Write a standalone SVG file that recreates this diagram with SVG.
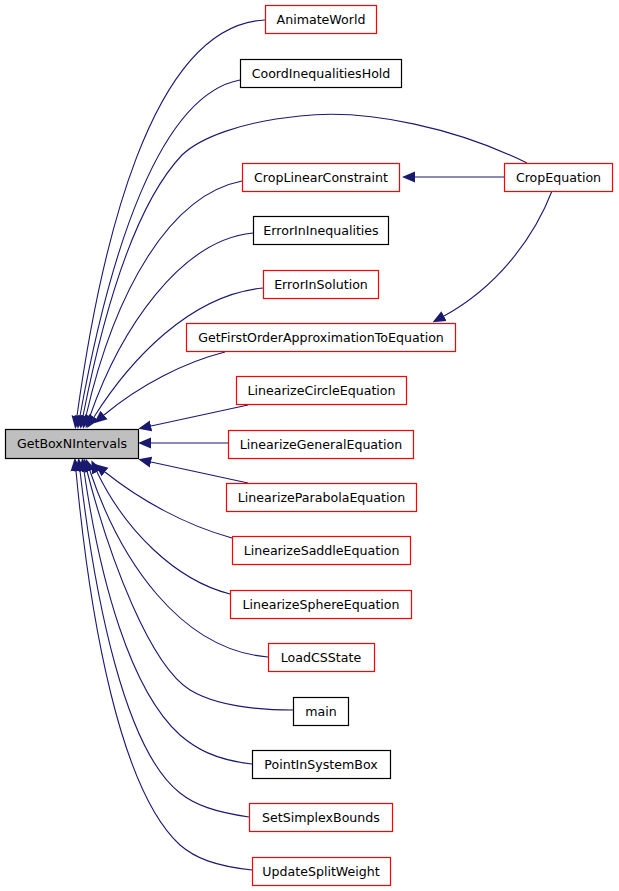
<svg xmlns="http://www.w3.org/2000/svg" width="619" height="891" viewBox="0 0 619 891">
<style>
.n rect{fill:#ffffff;stroke-width:1.2}
.red rect{stroke:#ff0000}
.blk rect{stroke:#000000}
.hub rect{fill:#bfbfbf;stroke:#000000;stroke-width:1.2}
text{font-family:"DejaVu Sans","Liberation Sans",sans-serif;font-size:12.6px;fill:#000;text-anchor:middle}
#edges path{fill:none;stroke:#191970;stroke-width:1.1;marker-end:url(#arr)}
</style>
<defs>
<marker id="arr" markerUnits="userSpaceOnUse" markerWidth="14" markerHeight="12" refX="0" refY="5.5" orient="auto" viewBox="0 0 14 11">
<path d="M0,0 L13,5.5 L0,11 z" fill="#191970"/>
</marker>
</defs>
<rect width="619" height="891" fill="#ffffff"/>
<g id="edges">
<path d="M265,20 C150,25 100,250 77,416"/>
<path d="M240,80 C160,95 110,250 80,416"/>
<path d="M527,163 C460,130 370,108 300,116 C240,122 200,138 182,155 C130,210 100,330 83,416"/>
<path d="M242,181 C170,195 115,290 86,416"/>
<path d="M253,233 C180,240 120,330 90,416"/>
<path d="M263,288 C190,295 130,360 94,417"/>
<path d="M225,352 C185,362 140,385 104,415"/>
<path d="M248,405 L151,426"/>
<path d="M228,443 L151,443"/>
<path d="M248,483 L151,462"/>
<path d="M232,538 C185,525 140,500 105,472"/>
<path d="M230,594 C175,580 125,530 97,472"/>
<path d="M268,657 C180,650 120,560 90,471"/>
<path d="M293,710 C250,710 215,705 190,690 C150,665 110,560 87,471"/>
<path d="M252,764 C215,760 195,748 180,735 C130,690 100,580 84,471"/>
<path d="M249,817 C215,812 195,805 180,793 C125,750 95,600 80,471"/>
<path d="M252,870 C215,866 195,858 180,845 C120,790 90,620 76,471"/>
<path d="M552,191 C535,235 500,285 444,316"/>
<path d="M504,177 L415,177"/>
</g>
<g id="GetBoxNIntervals" class="hub"><rect x="5.5" y="429.5" width="133" height="29"/><text x="72" y="448">GetBoxNIntervals</text></g>
<g id="AnimateWorld" class="n red"><rect x="265.5" y="5.5" width="111" height="28"/><text x="321" y="24">AnimateWorld</text></g>
<g id="CoordInequalitiesHold" class="n blk"><rect x="240.5" y="59.5" width="161" height="28"/><text x="321" y="78">CoordInequalitiesHold</text></g>
<g id="CropLinearConstraint" class="n red"><rect x="242.5" y="163.5" width="157" height="28"/><text x="321" y="182">CropLinearConstraint</text></g>
<g id="CropEquation" class="n red"><rect x="504.5" y="163.5" width="108" height="28"/><text x="558.5" y="182">CropEquation</text></g>
<g id="ErrorInInequalities" class="n blk"><rect x="253.5" y="216.5" width="135" height="28"/><text x="321" y="235">ErrorInInequalities</text></g>
<g id="ErrorInSolution" class="n red"><rect x="263.5" y="270.5" width="115" height="28"/><text x="321" y="289">ErrorInSolution</text></g>
<g id="GetFirstOrderApproximationToEquation" class="n red"><rect x="186.5" y="323.5" width="269" height="28"/><text x="321" y="342">GetFirstOrderApproximationToEquation</text></g>
<g id="LinearizeCircleEquation" class="n red"><rect x="236.5" y="376.5" width="170" height="28"/><text x="321.5" y="395">LinearizeCircleEquation</text></g>
<g id="LinearizeGeneralEquation" class="n red"><rect x="228.5" y="430.5" width="185" height="28"/><text x="321" y="449">LinearizeGeneralEquation</text></g>
<g id="LinearizeParabolaEquation" class="n red"><rect x="226.5" y="483.5" width="190" height="28"/><text x="321.5" y="502">LinearizeParabolaEquation</text></g>
<g id="LinearizeSaddleEquation" class="n red"><rect x="232.5" y="536.5" width="178" height="28"/><text x="321.5" y="555">LinearizeSaddleEquation</text></g>
<g id="LinearizeSphereEquation" class="n red"><rect x="230.5" y="590.5" width="181" height="28"/><text x="321" y="609">LinearizeSphereEquation</text></g>
<g id="LoadCSState" class="n red"><rect x="268.5" y="643.5" width="106" height="28"/><text x="321" y="662">LoadCSState</text></g>
<g id="main" class="n blk"><rect x="293.5" y="697.5" width="55" height="28"/><text x="321" y="716">main</text></g>
<g id="PointInSystemBox" class="n blk"><rect x="252.5" y="750.5" width="138" height="28"/><text x="321" y="769">PointInSystemBox</text></g>
<g id="SetSimplexBounds" class="n red"><rect x="249.5" y="803.5" width="143" height="28"/><text x="321" y="822">SetSimplexBounds</text></g>
<g id="UpdateSplitWeight" class="n red"><rect x="252.5" y="857.5" width="138" height="28"/><text x="321" y="876">UpdateSplitWeight</text></g>
</svg>
